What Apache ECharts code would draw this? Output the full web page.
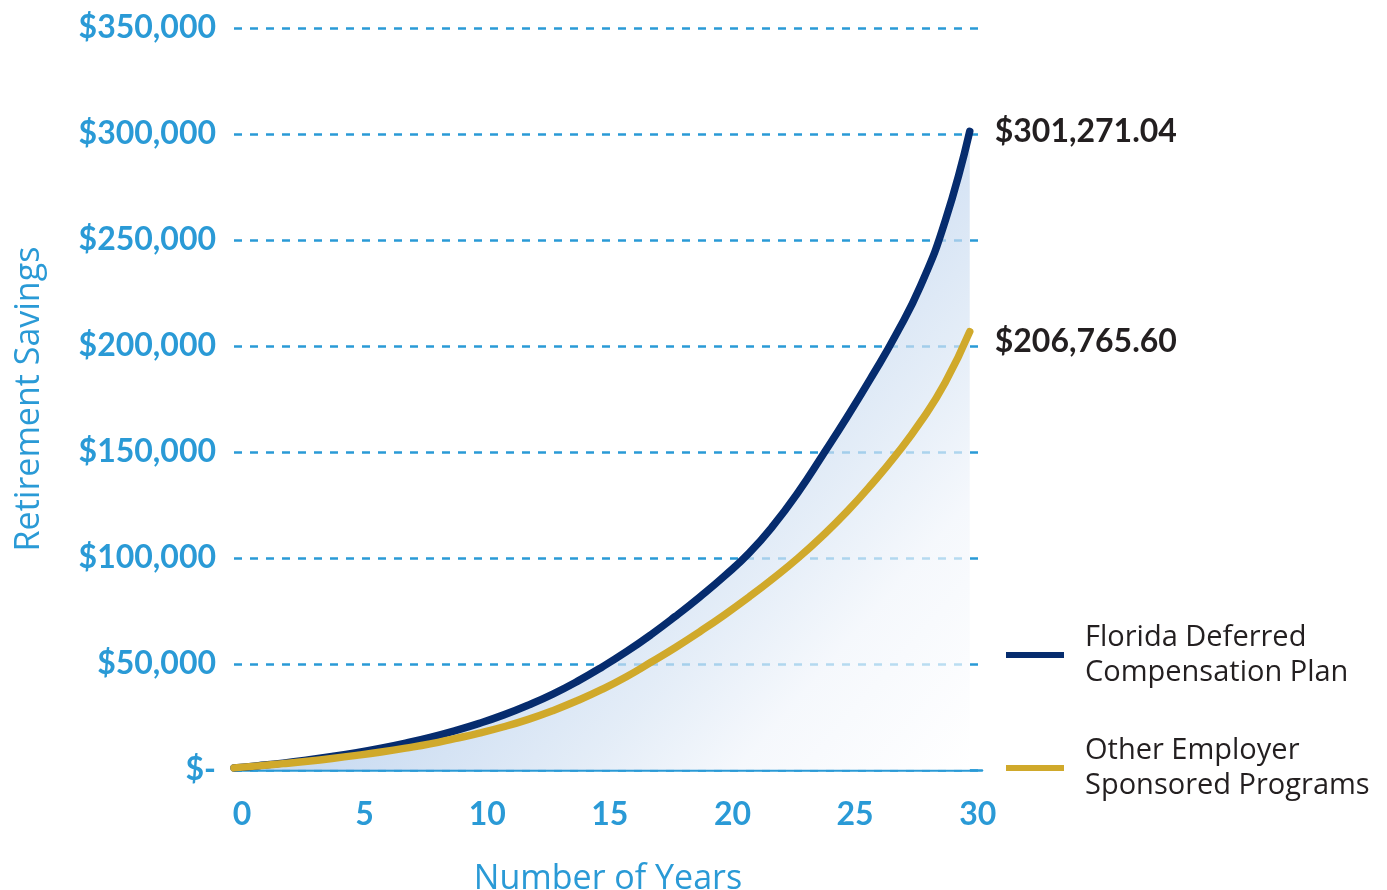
<!DOCTYPE html>
<html>
<head>
<meta charset="utf-8">
<script src="https://cdn.jsdelivr.net/npm/echarts@6/dist/echarts.min.js"></script>
<style>
html,body{margin:0;padding:0;background:#fff;}
#chart{width:1387px;height:890px;}
</style>
</head>
<body>
<div id="chart"></div>
<script>
// ---- data ----
const years = [0,1,2,3,4,5,6,7,8,9,10,11,12,13,14,15,16,17,18,19,20,21,22,23,24,25,26,27,28,29,30];
const floridaPlan = [1000,2050,3250,4700,6350,8200,10300,12700,15400,18500,22000,26000,30600,35800,41800,48500,55800,63800,72500,81700,91500,102300,115500,131000,148500,166500,185500,205500,228500,259000,301271.04];
const otherPrograms = [1000,1950,3000,4150,5450,6900,8500,10300,12300,14800,17400,20400,23900,28000,32700,38000,44000,50800,57800,65300,73200,81600,90500,100000,110500,122000,134800,148700,164300,182800,206765.60];
const seriesNames = ['Florida Deferred\nCompensation Plan', 'Other Employer\nSponsored Programs'];
const endLabels = ['$301,271.04', '$206,765.60'];
const yTicks = [0, 50000, 100000, 150000, 200000, 250000, 300000, 350000];
const xTicks = [0, 5, 10, 15, 20, 25, 30];

const BLUE_TXT = '#2a9ad6';
const FONT = 'Lato, "Open Sans", sans-serif';
const FONT2 = '"Open Sans", Lato, sans-serif';

const chart = echarts.init(document.getElementById('chart'), null, {renderer: 'canvas'});
chart.setOption({
  animation: false,
  backgroundColor: '#ffffff',
  grid: {left: 234, right: 405, top: 28, bottom: 120, containLabel: false, outerBoundsMode: 'none'},
  legend: {
    orient: 'vertical',
    left: 1001,
    top: 608,
    icon: 'rect',
    itemWidth: 58,
    itemHeight: 6,
    itemGap: 29,
    textStyle: {fontFamily: FONT2, fontSize: 29, lineHeight: 35, color: '#231f20', padding: [14,0,0,16]},
    data: seriesNames
  },
  xAxis: {
    type: 'value',
    min: 0,
    max: 30.5,
    interval: 5,
    name: 'Number of Years',
    nameLocation: 'middle',
    nameGap: 92,
    nameTextStyle: {fontFamily: FONT2, fontSize: 34, color: BLUE_TXT},
    axisLine: {show: true, lineStyle: {color: BLUE_TXT, width: 2.5}},
    axisTick: {show: false},
    splitLine: {show: false},
    axisLabel: {
      margin: 29,
      fontFamily: FONT, fontSize: 32, fontWeight: 'bold', color: BLUE_TXT,
      padding: [0, 0, 0, 16],
      formatter: v => (xTicks.indexOf(v) >= 0 ? String(v) : '')
    }
  },
  yAxis: {
    type: 'value',
    min: 0,
    max: 350000,
    interval: 50000,
    name: 'Retirement Savings',
    nameLocation: 'middle',
    nameGap: 188,
    nameTextStyle: {fontFamily: FONT2, fontSize: 34, color: BLUE_TXT},
    axisLine: {show: false},
    axisTick: {show: false},
    axisLabel: {
      margin: 18,
      fontFamily: FONT, fontSize: 32, fontWeight: 'bold', color: BLUE_TXT,
      formatter: v => (v === 0 ? '$-' : '$' + v.toLocaleString('en-US'))
    },
    splitLine: {show: true, lineStyle: {color: BLUE_TXT, width: 2.5, type: [8, 8]}}
  },
  series: [
    {
      name: seriesNames[0],
      type: 'line',
      data: years.map((y, i) => [y, floridaPlan[i]]),
      smooth: true,
      showSymbol: false,
      color: '#062c6e',
      itemStyle: {color: '#062c6e'},
      lineStyle: {color: '#062c6e', width: 7.5, cap: 'round', join: 'round'},
      areaStyle: {
        origin: 'start',
        color: new echarts.graphic.LinearGradient(0, 0, 1, 1, [
          {offset: 0, color: '#8fb4e2'},
          {offset: 0.5, color: '#b4cdec'},
          {offset: 0.7, color: '#d8e5f4'},
          {offset: 0.82, color: '#f1f5fb'},
          {offset: 1, color: '#ffffff'}
        ])
      },
      endLabel: {
        show: true,
        formatter: endLabels[0],
        distance: 25,
        fontFamily: FONT, fontSize: 32, fontWeight: 'bold', color: '#231f20'
      },
      z: 2
    },
    {
      name: seriesNames[1],
      type: 'line',
      data: years.map((y, i) => [y, otherPrograms[i]]),
      smooth: true,
      showSymbol: false,
      color: '#d0a92b',
      itemStyle: {color: '#d0a92b'},
      lineStyle: {color: '#d0a92b', width: 7.5, cap: 'round', join: 'round'},
      endLabel: {
        show: true,
        formatter: endLabels[1],
        distance: 25,
        offset: [0, 10],
        fontFamily: FONT, fontSize: 32, fontWeight: 'bold', color: '#231f20'
      },
      z: 3
    }
  ]
});
</script>
</body>
</html>
